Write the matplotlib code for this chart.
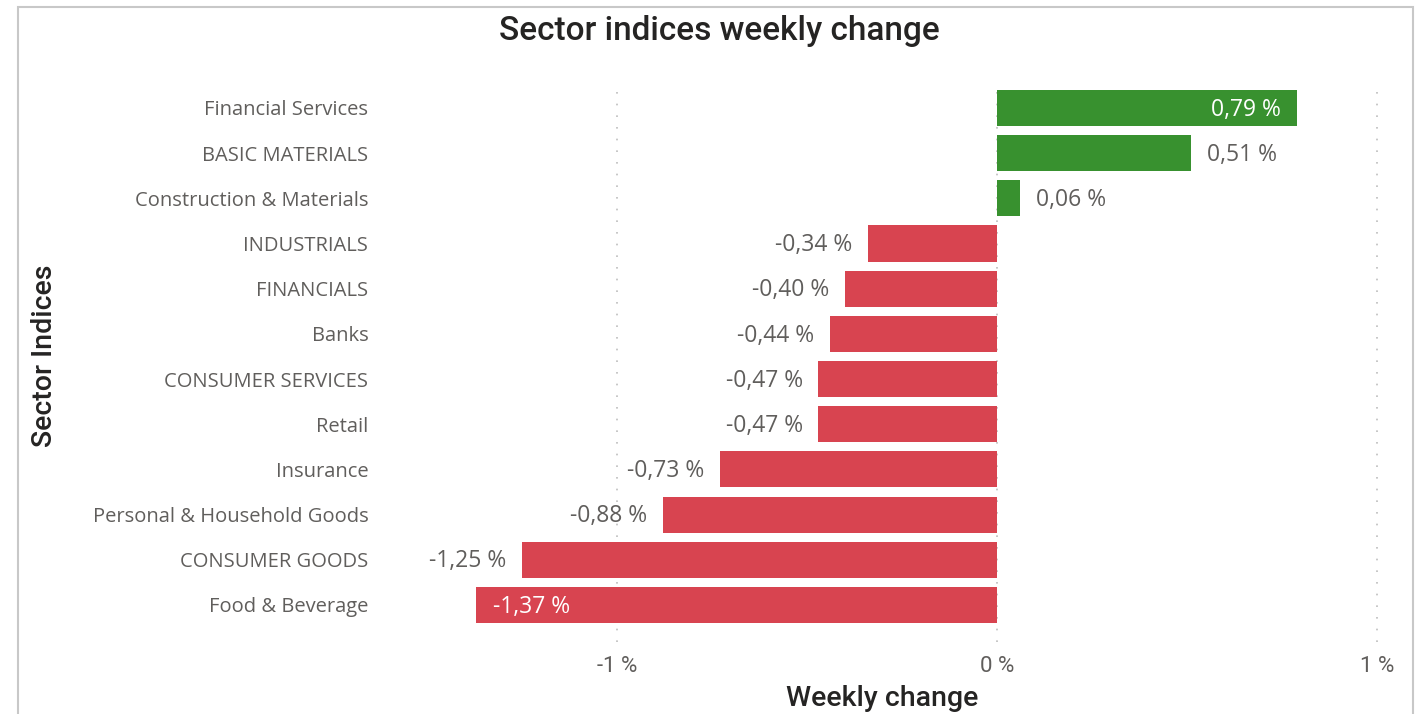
import matplotlib
matplotlib.use("Agg")
import matplotlib.pyplot as plt
from matplotlib.patches import Rectangle
from matplotlib import font_manager

categories = ["Financial Services", "BASIC MATERIALS", "Construction & Materials",
              "INDUSTRIALS", "FINANCIALS", "Banks", "CONSUMER SERVICES", "Retail",
              "Insurance", "Personal & Household Goods", "CONSUMER GOODS", "Food & Beverage"]
values = [0.79, 0.51, 0.06, -0.34, -0.40, -0.44, -0.47, -0.47, -0.73, -0.88, -1.25, -1.37]
xticks = [-1, 0, 1]
xticklabels = ["-1 %", "0 %", "1 %"]
inside_labels = ["Financial Services", "Food & Beverage"]

names = {f.name for f in font_manager.fontManager.ttflist}
head = "Roboto" if "Roboto" in names else "DejaVu Sans"
body = "Open Sans" if "Open Sans" in names else "DejaVu Sans"

GREEN = "#38912F"
RED = "#D84450"
GRAY = "#605E5C"

W, H = 1418, 714
fig = plt.figure(figsize=(W / 100, H / 100), dpi=100)
fig.patch.set_facecolor("white")

# outer frame
fig.add_artist(Rectangle((18 / W, -0.05), (1413 - 18) / W, 1 - 7 / H + 0.05,
                         transform=fig.transFigure, fill=False,
                         edgecolor="#C8C8C8", linewidth=1.5))

left, right, top, bottom = 378, 1380, 82, 642
ax = fig.add_axes([left / W, 1 - bottom / H, (right - left) / W, (bottom - top) / H])

y = list(range(len(categories)))
colors = [GREEN if v >= 0 else RED for v in values]
ax.barh(y, values, height=0.8, color=colors, zorder=2)

ax.set_xlim(-1.6289, 1.008)
ax.set_ylim(11.82, -0.575)

ax.set_xticks(xticks)
ax.set_xticklabels(xticklabels, fontsize=16, color=GRAY, family=head)
ax.set_yticks(y)
ax.set_yticklabels(categories, fontsize=14.5, color=GRAY, family=body)
ax.tick_params(axis="both", length=0)
ax.tick_params(axis="x", pad=10)
ax.tick_params(axis="y", pad=7)
for s in ax.spines.values():
    s.set_visible(False)
ax.grid(axis="x", linestyle=(0, (1, 6)), color="#BDBDBD", linewidth=1.2, zorder=1)
ax.grid(axis="y", visible=False)

for yi, v, c in zip(y, values, categories):
    lab = f"{v:.2f}".replace(".", ",") + " %"
    if c in inside_labels:
        dx, ha, col = (-12, "right", "white") if v >= 0 else (12, "left", "white")
    else:
        dx, ha, col = (11.5, "left", GRAY) if v >= 0 else (-11, "right", GRAY)
    ax.annotate(lab, (v, yi), xytext=(dx, -1.2), textcoords="offset points",
                ha=ha, va="center", color=col, fontsize=16.5, family=body)

fig.text(719 / W, 1 - 31 / H, "Sector indices weekly change", ha="center", va="center",
         fontsize=24, color="#252423", family=head, fontweight="medium")
fig.text(882 / W, 1 - 699 / H, "Weekly change", ha="center", va="center",
         fontsize=20.5, color="#252423", family=head, fontweight="medium")
fig.text(45 / W, 1 - 356 / H, "Sector Indices", ha="center", va="center", rotation=90,
         fontsize=20.5, color="#252423", family=head, fontweight="medium")

fig.savefig("out.png", dpi=100, facecolor="white")
